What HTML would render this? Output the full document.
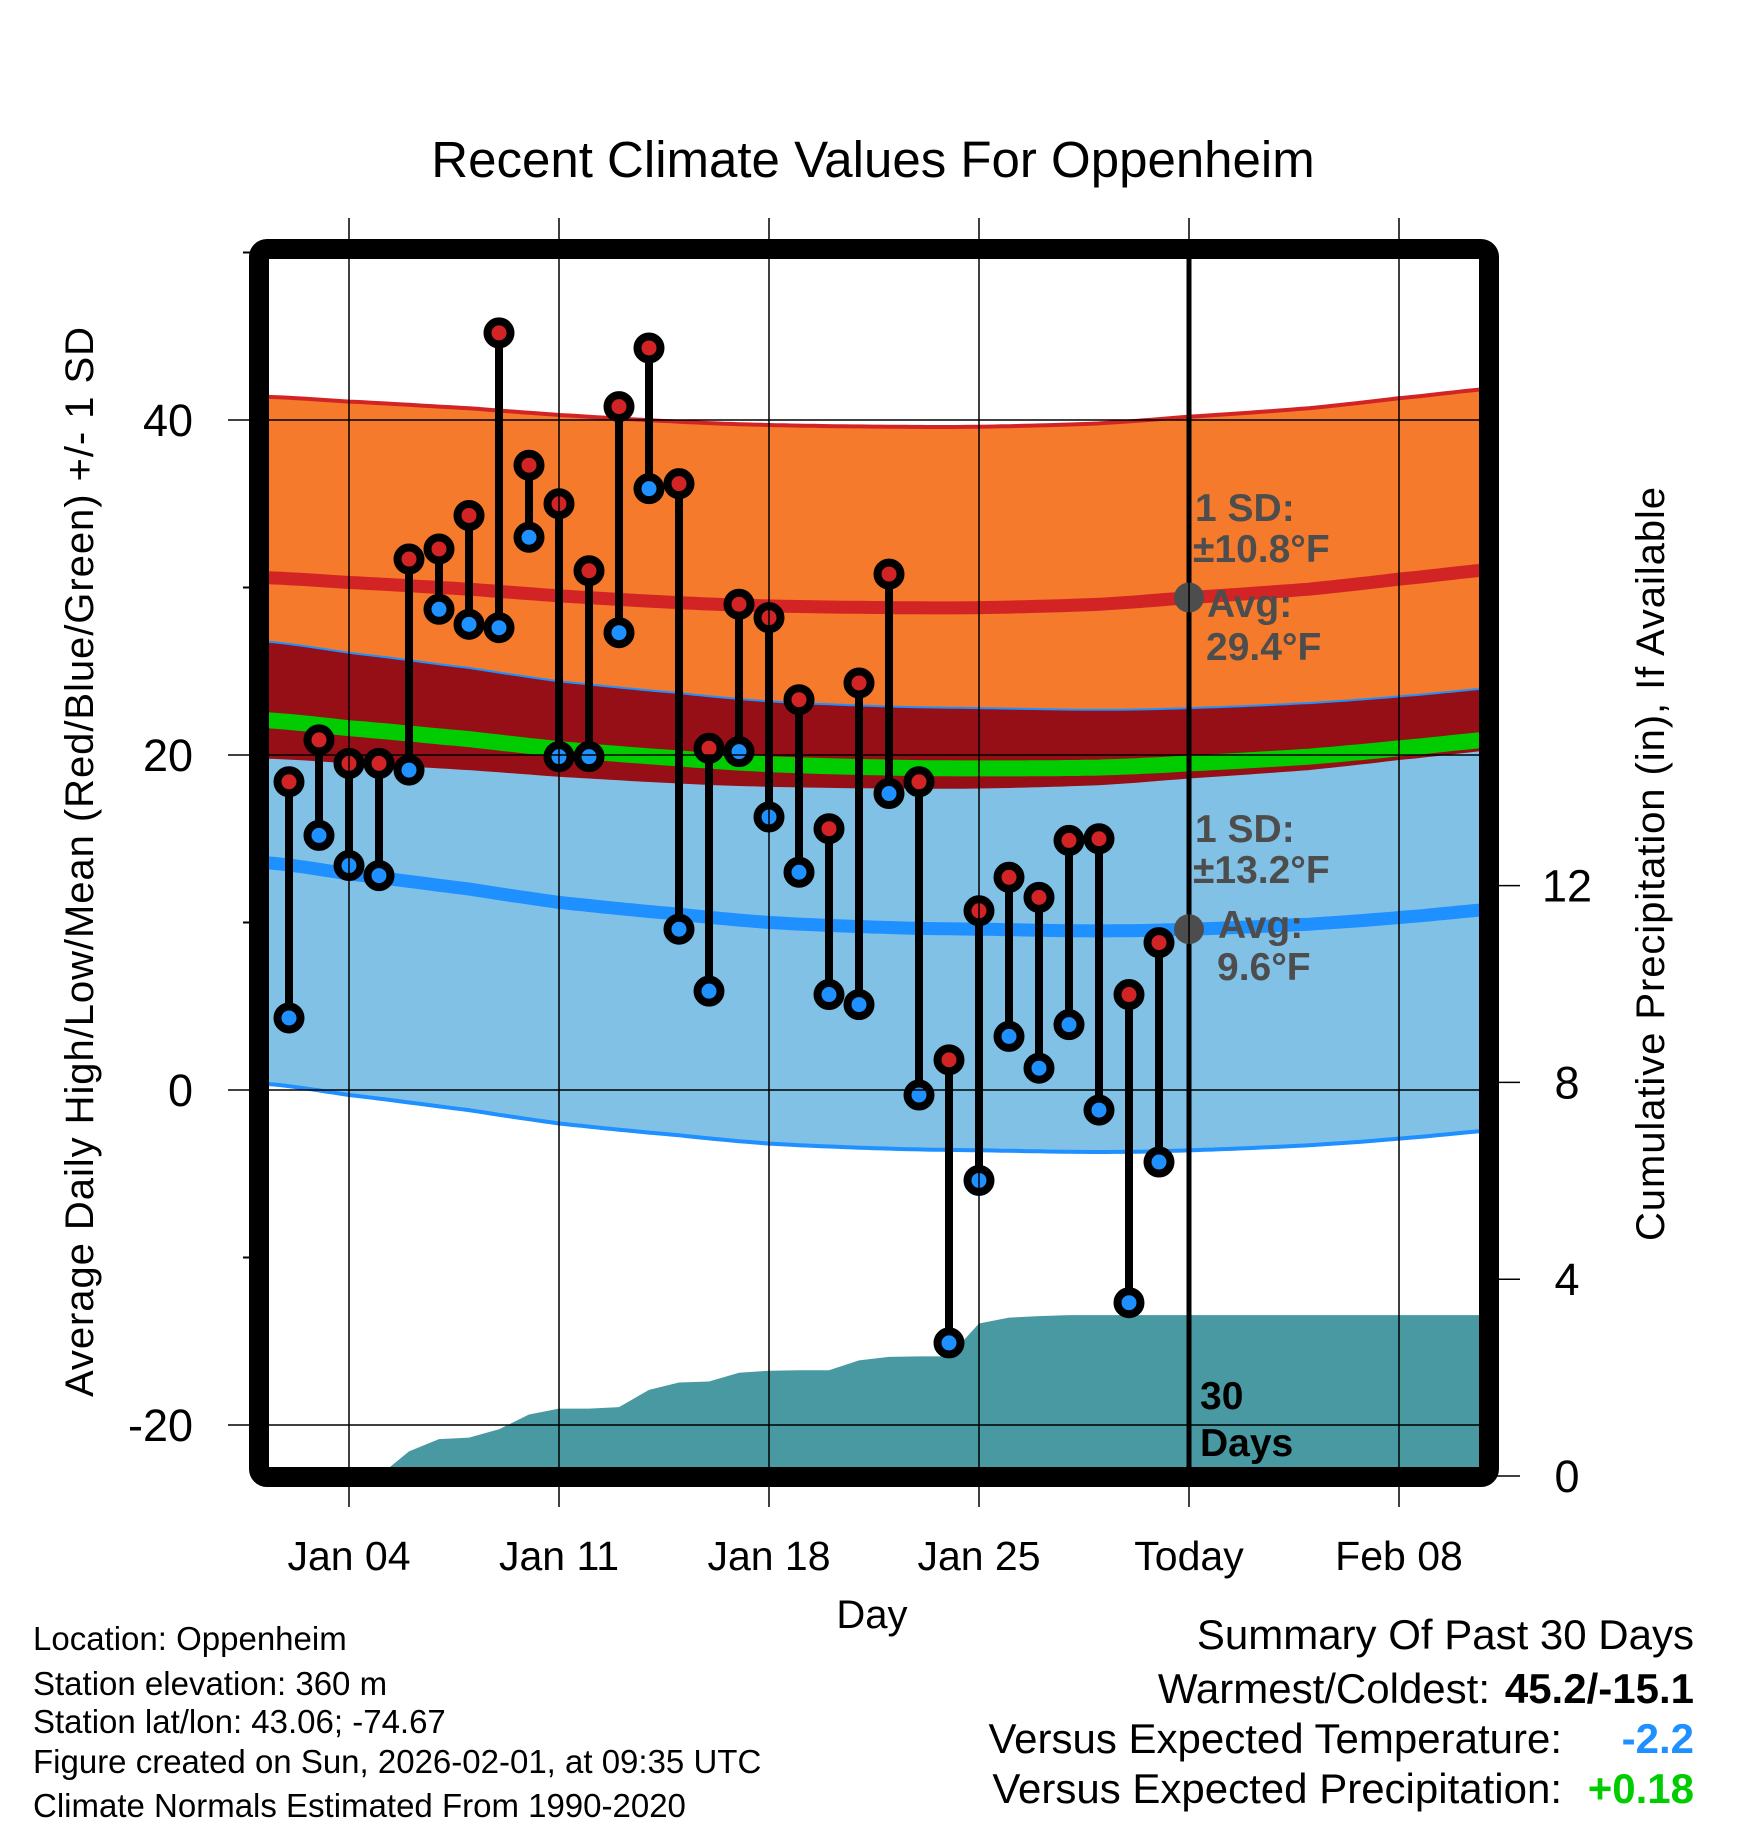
<!DOCTYPE html>
<html><head><meta charset="utf-8"><style>
body{margin:0;background:#fff}
svg{display:block;font-family:"Liberation Sans",Arial,sans-serif}
</style></head><body>
<svg id="chart" width="1748" height="1828" viewBox="0 0 1748 1828" xmlns="http://www.w3.org/2000/svg">
<defs><clipPath id="plotclip"><rect x="269" y="259" width="1210" height="1208"/></clipPath></defs>
<rect width="1748" height="1828" fill="#fff"/>
<text x="873" y="177" font-size="51" text-anchor="middle">Recent Climate Values For Oppenheim</text>
<g id="plot" clip-path="url(#plotclip)"></g>
<g id="over"></g>
<rect x="259" y="249" width="1230" height="1228" rx="8" fill="none" stroke="#000" stroke-width="20"/>
<g id="axes"></g>
<text transform="translate(93,862) rotate(-90)" font-size="40" text-anchor="middle" textLength="1070">Average Daily High/Low/Mean (Red/Blue/Green) +/- 1 SD</text>
<text transform="translate(1664,864) rotate(-90)" font-size="40" text-anchor="middle" textLength="754">Cumulative Precipitation (in), If Available</text>
<text x="872" y="1628" font-size="40" text-anchor="middle">Day</text>
<g font-size="33">
<text x="33" y="1650">Location: Oppenheim</text>
<text x="33" y="1695">Station elevation: 360 m</text>
<text x="33" y="1733">Station lat/lon: 43.06; -74.67</text>
<text x="33" y="1773">Figure created on Sun, 2026-02-01, at 09:35 UTC</text>
<text x="33" y="1817">Climate Normals Estimated From 1990-2020</text>
</g>
<g font-size="42" text-anchor="end">
<text x="1694" y="1649">Summary Of Past 30 Days</text>
<text x="1490" y="1703">Warmest/Coldest:</text>
<text x="1694" y="1703" font-weight="bold">45.2/-15.1</text>
<text x="1562" y="1753">Versus Expected Temperature:</text>
<text x="1694" y="1753" font-weight="bold" fill="#1E90FF">-2.2</text>
<text x="1562" y="1803">Versus Expected Precipitation:</text>
<text x="1694" y="1803" font-weight="bold" fill="#00CC00">+0.18</text>
</g>
</svg>
<script>
// ---- data (day-of-January index; Feb 1 = 32) ----
const obsDays = [2,3,4,5,6,7,8,9,10,11,12,13,14,15,16,17,18,19,20,21,22,23,24,25,26,27,28,29,30,31];
const highs = [18.4,20.9,19.5,19.5,31.7,32.3,34.3,45.2,37.3,35.0,31.0,40.8,44.3,36.2,20.4,29.0,28.2,23.3,15.6,24.3,30.8,18.4,1.8,10.7,12.7,11.5,14.9,15.0,5.7,8.8];
const lows = [4.3,15.2,13.4,12.8,19.1,28.7,27.8,27.6,33.0,19.9,19.9,27.3,35.9,9.6,5.9,20.2,16.3,13.0,5.7,5.1,17.7,-0.3,-15.1,-5.4,3.2,1.3,3.9,-1.2,-12.7,-4.3];
const normDays = [1,4,8,11,15,18,22,25,29,32,36,39,43];
const normHigh = [30.6,30.3,29.9,29.5,29.1,28.9,28.8,28.8,29.0,29.4,29.9,30.5,31.2];
const normLow = [13.6,12.9,12.0,11.2,10.5,10.0,9.7,9.6,9.5,9.6,9.9,10.3,10.9];
const sdHigh = 10.8, sdLow = 13.2;
const precipDays = [5,6,7,8,9,10,11,12,13,14,15,16,17,18,19,20,21,22,23,24,25,26,27,28,29,30,31,43];
const precip = [0,0.5,0.75,0.78,0.95,1.25,1.37,1.37,1.4,1.75,1.9,1.92,2.1,2.14,2.15,2.15,2.35,2.42,2.43,2.43,3.1,3.22,3.25,3.27,3.27,3.27,3.27,3.27];
const xTickDays = [4,11,18,25,32,39];
const xTickLabels = ["Jan 04","Jan 11","Jan 18","Jan 25","Today","Feb 08"];
const yTicks = [40,20,0,-20];
const yMinor = [50,30,10,-10];
const y2Ticks = [0,4,8,12];
const todayDay = 32;

// ---- scales ----
const X = d => 349 + (d - 4) * 30;
const Y = t => 1090 - 16.75 * t;
const Y2 = p => 1476 - 49.2 * p;
const NS = "http://www.w3.org/2000/svg";
const plot = document.getElementById('plot'), over = document.getElementById('over'), axes = document.getElementById('axes');
function mk(tag, attrs, parent) { const e = document.createElementNS(NS, tag); for (const k in attrs) e.setAttribute(k, attrs[k]); parent.appendChild(e); return e; }
// smooth (Catmull-Rom) interpolation of normals
function interp(arr, d) {
  const n = normDays.length;
  let i = 0;
  while (i < n - 2 && d > normDays[i + 1]) i++;
  const t = Math.max(0, Math.min(1, (d - normDays[i]) / (normDays[i + 1] - normDays[i])));
  const p0 = arr[Math.max(0, i - 1)], p1 = arr[i], p2 = arr[i + 1], p3 = arr[Math.min(n - 1, i + 2)];
  return 0.5 * ((2 * p1) + (-p0 + p2) * t + (2 * p0 - 5 * p1 + 4 * p2 - p3) * t * t + (-p0 + 3 * p1 - 3 * p2 + p3) * t * t * t);
}
const fine = []; for (let d = 1; d <= 43; d += 0.25) fine.push(d);
const curve = fn => fine.map(d => X(d).toFixed(1) + ',' + Y(fn(d)).toFixed(1));
const hiU = d => interp(normHigh, d) + sdHigh, hiL = d => interp(normHigh, d) - sdHigh;
const loU = d => interp(normLow, d) + sdLow, loL = d => interp(normLow, d) - sdLow;
const band = (up, dn) => 'M' + curve(up).join(' L') + ' L' + curve(dn).reverse().join(' L') + 'Z';

const b1 = mk('path', {d: band(hiU, hiL), fill: '#F57A2C'}, plot);


const b2 = mk('path', {d: band(loU, loL), fill: '#82C1E6'}, plot);


const b3 = mk('path', {d: band(loU, hiL), fill: '#960E16'}, plot);


const e1 = mk('polyline', {points: curve(hiU).join(' '), fill: 'none', stroke: '#D22424', 'stroke-width': 4}, plot);


const e2 = mk('polyline', {points: curve(loU).join(' '), fill: 'none', stroke: '#1E90FF', 'stroke-width': 2}, plot);


const e3 = mk('polyline', {points: curve(loL).join(' '), fill: 'none', stroke: '#1E90FF', 'stroke-width': 4}, plot);


const m3 = mk('polyline', {points: curve(d => (interp(normHigh, d) + interp(normLow, d)) / 2).join(' '), fill: 'none', stroke: '#00CC00', 'stroke-width': 16}, plot);


const m1 = mk('polyline', {points: curve(d => interp(normHigh, d)).join(' '), fill: 'none', stroke: '#D22424', 'stroke-width': 13}, plot);


const m2 = mk('polyline', {points: curve(d => interp(normLow, d)).join(' '), fill: 'none', stroke: '#1E90FF', 'stroke-width': 13}, plot);



// precip area
let pd = 'M' + X(precipDays[0]) + ',' + Y2(0);
precipDays.forEach((d, i) => { pd += ' L' + X(d).toFixed(1) + ',' + Y2(precip[i]).toFixed(1); });
pd += ' L' + X(precipDays[precipDays.length - 1]) + ',' + Y2(0) + 'Z';
const pa = mk('path', {d: pd, fill: '#4899A2'}, plot);



// gridlines
xTickDays.forEach((d, i) => {
  const g = mk('line', {x1: X(d), x2: X(d), y1: 218, y2: 1507, stroke: '#000', 'stroke-width': 1.5}, axes);
  
  
  const t = mk('text', {x: X(d), y: 1570, 'font-size': 41, 'text-anchor': 'middle'}, axes);
  t.textContent = xTickLabels[i];
  
  
});
yTicks.forEach(v => {
  const g = mk('line', {x1: 228, x2: 1479, y1: Y(v), y2: Y(v), stroke: '#000', 'stroke-width': 1.5}, axes);
  
  
  const t = mk('text', {x: 193, y: Y(v) + 16, 'font-size': 45, 'text-anchor': 'end'}, axes);
  t.textContent = v;
  
  
});
yMinor.forEach(v => {
  const g = mk('line', {x1: 243, x2: 252, y1: Y(v), y2: Y(v), stroke: '#000', 'stroke-width': 2}, axes);
  
  
});
y2Ticks.forEach(v => {
  const g = mk('line', {x1: 1495, x2: 1520, y1: Y2(v), y2: Y2(v), stroke: '#000', 'stroke-width': 1.5}, axes);
  
  
  const t = mk('text', {x: 1567, y: Y2(v) + 16, 'font-size': 45, 'text-anchor': 'middle'}, axes);
  t.textContent = v;
  
  
});

// today line
const tl = mk('line', {x1: X(todayDay), x2: X(todayDay), y1: 250, y2: 1470, stroke: '#000', 'stroke-width': 5}, over);



// stems and markers
obsDays.forEach((d, i) => {
  const s = mk('line', {x1: X(d), x2: X(d), y1: Y(highs[i]), y2: Y(lows[i]), stroke: '#000', 'stroke-width': 8}, over);
  
  
});
obsDays.forEach((d, i) => {
  const h = mk('circle', {cx: X(d), cy: Y(highs[i]), r: 11.5, fill: '#D22424', stroke: '#000', 'stroke-width': 8}, over);
  
  
  const l = mk('circle', {cx: X(d), cy: Y(lows[i]), r: 11.5, fill: '#1E90FF', stroke: '#000', 'stroke-width': 8}, over);
  
  
});

// today normal dots
const dh = mk('circle', {cx: X(todayDay), cy: Y(interp(normHigh, todayDay)), r: 15, fill: '#4D4D4D'}, over);


const dl = mk('circle', {cx: X(todayDay), cy: Y(interp(normLow, todayDay)), r: 15, fill: '#4D4D4D'}, over);



const labels = [
  ['1 SD:', 1195, 521, '#4D4D4D', 'high-sd-label'],
  ['\u00B110.8\u00B0F', 1193, 562, '#4D4D4D', 'high-sd-value'],
  ['Avg:', 1207, 617, '#4D4D4D', 'high-avg-label'],
  ['29.4\u00B0F', 1206, 660, '#4D4D4D', 'high-avg-value'],
  ['1 SD:', 1195, 842, '#4D4D4D', 'low-sd-label'],
  ['\u00B113.2\u00B0F', 1193, 883, '#4D4D4D', 'low-sd-value'],
  ['Avg:', 1218, 938, '#4D4D4D', 'low-avg-label'],
  ['9.6\u00B0F', 1217, 980, '#4D4D4D', 'low-avg-value'],
  ['30', 1200, 1409, '#000', 'days-count'],
  ['Days', 1200, 1456, '#000', 'days-label']
];
labels.forEach(a => {
  const t = mk('text', {x: a[1], y: a[2], 'font-size': 39, 'font-weight': 'bold', fill: a[3]}, over);
  t.textContent = a[0];
  
  
});
</script>
</body></html>
